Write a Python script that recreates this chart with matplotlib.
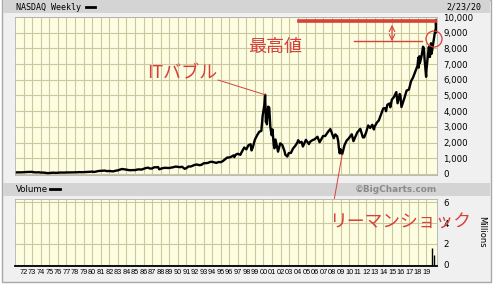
import matplotlib
matplotlib.use('Agg')
import matplotlib.pyplot as plt
from matplotlib.patches import Rectangle, Circle

# NASDAQ composite, approximate weekly-chart turning points (decimal year, index)
dates = [1971.05, 1971.3, 1971.5, 1971.75, 1972.0, 1972.25, 1972.5, 1972.75,
         1973.0, 1973.25, 1973.5, 1973.75, 1974.0, 1974.25, 1974.5, 1974.75,
         1975.0, 1975.25, 1975.5, 1975.75, 1976.0, 1976.25, 1976.5, 1976.75,
         1977.0, 1977.25, 1977.5, 1977.75, 1978.0, 1978.25, 1978.5, 1978.75,
         1979.0, 1979.25, 1979.5, 1979.75, 1980.0, 1980.25, 1980.5, 1980.75,
         1981.0, 1981.25, 1981.5, 1981.75, 1982.0, 1982.25, 1982.5, 1982.75,
         1983.0, 1983.25, 1983.5, 1983.75, 1984.0, 1984.25, 1984.5, 1984.75,
         1985.0, 1985.25, 1985.5, 1985.75, 1986.0, 1986.25, 1986.5, 1986.75,
         1987.0, 1987.25, 1987.5, 1987.7, 1987.83, 1988.0, 1988.25, 1988.5,
         1988.75, 1989.0, 1989.25, 1989.5, 1989.75, 1990.0, 1990.25, 1990.5,
         1990.8, 1991.0, 1991.25, 1991.5, 1991.75, 1992.0, 1992.25, 1992.5,
         1992.75, 1993.0, 1993.25, 1993.5, 1993.75, 1994.0, 1994.25, 1994.5,
         1994.75, 1995.0, 1995.25, 1995.5, 1995.75, 1996.0, 1996.25, 1996.5,
         1996.6, 1996.75, 1997.0, 1997.3, 1997.5, 1997.75, 1998.0, 1998.25,
         1998.5, 1998.6, 1998.75, 1999.0, 1999.25, 1999.5, 1999.75, 1999.9,
         2000.0, 2000.1, 2000.19, 2000.28, 2000.35, 2000.4, 2000.54, 2000.67,
         2000.8, 2000.95, 2001.05, 2001.2, 2001.28, 2001.4, 2001.7, 2001.95,
         2002.2, 2002.45, 2002.55, 2002.78, 2002.95, 2003.2, 2003.45, 2003.7,
         2003.95, 2004.05, 2004.2, 2004.45, 2004.6, 2004.95, 2005.3, 2005.45,
         2005.7, 2005.95, 2006.3, 2006.55, 2006.95, 2007.2, 2007.55, 2007.8,
         2007.95, 2008.2, 2008.38, 2008.6, 2008.72, 2008.8, 2008.9, 2008.98,
         2009.19, 2009.45, 2009.7, 2009.95, 2010.3, 2010.5, 2010.95, 2011.3,
         2011.6, 2011.75, 2011.95, 2012.22, 2012.45, 2012.7, 2012.88, 2012.98,
         2013.22, 2013.45, 2013.7, 2013.98, 2014.22, 2014.3, 2014.45, 2014.7,
         2014.8, 2014.98, 2015.22, 2015.5, 2015.65, 2015.9, 2015.98, 2016.1,
         2016.45, 2016.7, 2016.98, 2017.22, 2017.45, 2017.7, 2017.98, 2018.07,
         2018.12, 2018.2, 2018.25, 2018.45, 2018.62, 2018.72, 2018.8, 2018.98,
         2019.02, 2019.22, 2019.3, 2019.42, 2019.55, 2019.62, 2019.72, 2019.8,
         2019.9, 2019.99, 2020.07, 2020.1, 2020.13, 2020.14]
values = [100, 105, 106, 104, 114, 128, 130, 130,
          134, 110, 100, 110, 92, 90, 80, 58,
          60, 76, 84, 73, 78, 92, 89, 90,
          98, 97, 100, 103, 105, 110, 120, 112,
          118, 125, 136, 140, 151, 130, 160, 190,
          202, 210, 215, 180, 195, 175, 170, 210,
          232, 280, 318, 300, 278, 250, 240, 250,
          247, 280, 296, 280, 325, 375, 405, 350,
          349, 430, 424, 444, 300, 330, 375, 394,
          387, 381, 407, 435, 473, 454, 435, 462,
          330, 373, 482, 475, 527, 586, 603, 563,
          583, 677, 690, 704, 763, 777, 743, 706,
          764, 752, 817, 933, 1044, 1052, 1101, 1185,
          1080, 1227, 1291, 1221, 1442, 1686, 1570, 1835,
          1895, 1500, 1694, 2193, 2461, 2686, 2746, 3700,
          4069, 4400, 5048, 3321, 3500, 3164, 4289, 4234,
          3000, 2470, 2840, 1840, 1638, 2200, 1423, 1950,
          1845, 1463, 1229, 1114, 1335, 1341, 1623, 1787,
          2003, 2153, 1994, 2048, 1750, 2175, 1904, 2057,
          2152, 2205, 2370, 2020, 2415, 2421, 2700, 2859,
          2652, 2279, 2522, 2400, 2091, 1650, 1316, 1577,
          1268, 1835, 2122, 2269, 2530, 2091, 2652, 2873,
          2331, 2336, 2605, 3091, 2935, 3136, 2836, 3020,
          3267, 3403, 3771, 4177, 4199, 4000, 4408, 4493,
          4250, 4736, 4900, 5218, 4506, 5100, 5007, 4266,
          4843, 5312, 5383, 5911, 6140, 6496, 6903, 7411,
          6777, 7500, 7063, 7510, 8109, 8000, 7305, 6190,
          6635, 7729, 8095, 7453, 8330, 7663, 7999, 8292,
          8665, 8972, 9150, 9000, 9817, 9576]

vol_dates = [2019.66, 2019.9]
vol_vals = [1.6, 0.95]

years = list(range(1972, 2020))
year_labels = ['%02d' % (y % 100) for y in years]
price_ticks = list(range(0, 10001, 1000))
vol_ticks = [0, 2, 4, 6]

W, H = 500, 285
red = '#d8403a'
bg = '#fdfde2'
grid_c = '#ccc79c'

fig = plt.figure(figsize=(W / 100, H / 100), dpi=100, facecolor='white')

def fx(px):
    return px / W

def fy(py):
    return 1 - py / H

# frame and grey bars
ov = fig.add_axes([0, 0, 1, 1], zorder=0)
ov.set_xlim(0, W)
ov.set_ylim(H, 0)
ov.axis('off')
ov.add_patch(Rectangle((2, 0), 489, 282, facecolor='#f0f0f0', edgecolor='#a8a8a8', lw=1))
ov.add_patch(Rectangle((3, 0), 487, 13, facecolor='#d4d4d4', edgecolor='none'))
ov.add_patch(Rectangle((3, 183), 487, 13, facecolor='#d4d4d4', edgecolor='none'))

ax = fig.add_axes([fx(15), fy(175), 422 / W, 158 / H], zorder=2)
vax = fig.add_axes([fx(15), fy(266), 422 / W, 67 / H], zorder=2)

for a in (ax, vax):
    a.set_facecolor(bg)
    a.set_xlim(1971.0, 2020.25)
    a.set_xticks(years)
    a.grid(True, color=grid_c, lw=0.8)
    a.set_axisbelow(True)
    a.yaxis.tick_right()
    a.tick_params(length=0, labelsize=6.2, pad=4.5)
    for s in a.spines.values():
        s.set_color('#b0b0b0')
        s.set_linewidth(0.6)

ax.plot(dates, values, color='black', lw=1.7)
ax.set_ylim(-64, 10000)
ax.set_yticks(price_ticks)
ax.set_yticklabels(['{:,}'.format(v) for v in price_ticks])
ax.set_xticklabels([])

vax.vlines(vol_dates, 0, vol_vals, color='black', lw=1)
vax.set_ylim(-0.1, 6.29)
vax.set_yticks(vol_ticks)
vax.set_xticklabels(year_labels, fontsize=5.3, family='Liberation Sans')
vax.tick_params(axis='x', pad=2.5)
vax.spines['bottom'].set_color('black')
vax.spines['bottom'].set_linewidth(1.3)

# header texts
fig.text(fx(16), fy(7), 'NASDAQ Weekly', family='DejaVu Sans Mono', fontsize=6, va='center')
fig.text(fx(481), fy(7), '2/23/20', family='DejaVu Sans Mono', fontsize=6, va='center', ha='right')
fig.text(fx(16), fy(189), 'Volume', fontsize=6.2, va='center')
fig.text(fx(437), fy(189), '\u00a9BigCharts.com', fontsize=6.4, fontweight='bold',
         color='#8a8a8a', va='center', ha='right')
fig.text(fx(482), fy(232), 'Millions', fontsize=6, rotation=-90, va='center', ha='center')

top = fig.add_axes([0, 0, 1, 1], zorder=5)
top.set_xlim(0, W)
top.set_ylim(H, 0)
top.axis('off')
top.plot([86, 95], [7, 7], color='black', lw=2)
top.plot([50, 60], [189, 189], color='black', lw=2)

# annotations
peak = max(values)
ax.plot([2004.2, 2020.1], [peak - 60, peak - 60], color=red, lw=2.6, zorder=4)
ax.plot([2010.6, 2018.5], [8480, 8480], color=red, lw=1, zorder=4)
top.annotate('', xy=(392, 22), xytext=(392, 44),
             arrowprops=dict(arrowstyle='<->', color=red, lw=0.8))
top.add_patch(Circle((434, 39), 8, facecolor='none', edgecolor=red, lw=0.9))

jp = ['Noto Sans CJK JP', 'DejaVu Sans']
top.text(275, 47, '最高値', family=jp, fontsize=13, color=red, ha='center', va='center')
top.text(182, 73, 'ITバブル', family=jp, fontsize=13, color=red, ha='center', va='center')
top.text(400, 223, 'リーマンショック', family=jp, fontsize=12.8, color=red, ha='center', va='center')

peak_i = values.index(peak if False else 5048)
ax.annotate('', xy=(dates[peak_i], values[peak_i]), xytext=(fx(218), fy(80)),
            textcoords='figure fraction',
            arrowprops=dict(arrowstyle='-', color=red, lw=0.7, shrinkA=0, shrinkB=0))
low_i = values.index(1268)
ax.annotate('', xy=(dates[low_i], values[low_i]), xytext=(fx(332), fy(212)),
            textcoords='figure fraction', annotation_clip=False,
            arrowprops=dict(arrowstyle='-', color=red, lw=0.7, shrinkA=0, shrinkB=0))

fig.savefig('out.png', dpi=100, facecolor='white')
